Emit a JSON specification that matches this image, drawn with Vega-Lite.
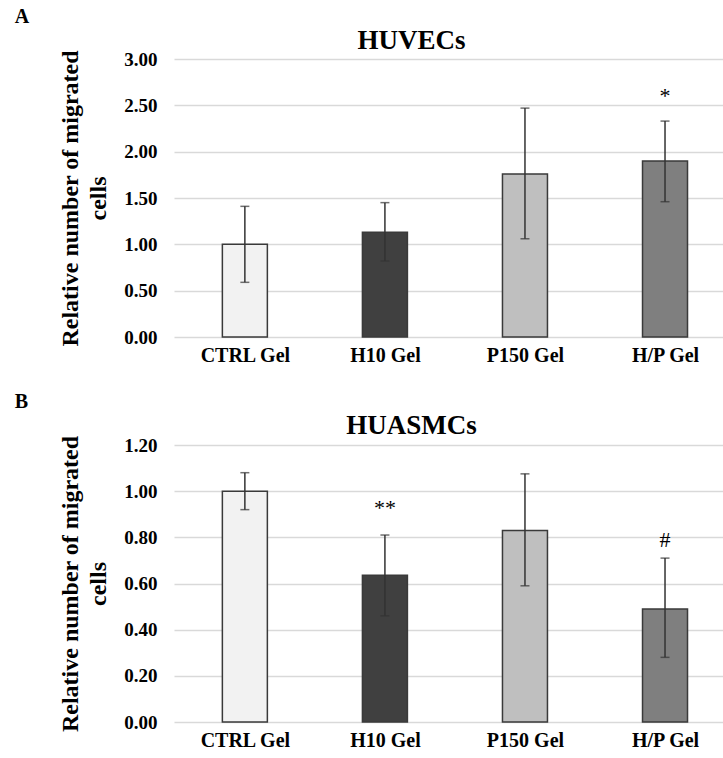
{
  "$schema": "https://vega.github.io/schema/vega-lite/v6.json",
  "background": "white",
  "padding": {"left": 14, "top": 6, "right": 0, "bottom": 2},
  "spacing": 27,
  "config": {
    "font": "Liberation Serif",
    "view": {"stroke": null},
    "title": {"font": "Liberation Serif", "fontWeight": "bold", "color": "black"},
    "axis": {
      "labelFont": "Liberation Serif", "labelFontWeight": "bold", "labelColor": "black",
      "titleFont": "Liberation Serif", "titleFontWeight": "bold", "titleColor": "black"
    }
  },
  "datasets": {
    "huvec": [
      {"group": "CTRL Gel", "mean": 1.00, "lo": 0.59, "hi": 1.41, "sig": null, "sig_y": null},
      {"group": "H10 Gel", "mean": 1.13, "lo": 0.82, "hi": 1.45, "sig": null, "sig_y": null},
      {"group": "P150 Gel", "mean": 1.76, "lo": 1.06, "hi": 2.47, "sig": null, "sig_y": null},
      {"group": "H/P Gel", "mean": 1.90, "lo": 1.46, "hi": 2.33, "sig": "*", "sig_y": 2.52}
    ],
    "huasmc": [
      {"group": "CTRL Gel", "mean": 1.00, "lo": 0.92, "hi": 1.08, "sig": null, "sig_y": null},
      {"group": "H10 Gel", "mean": 0.636, "lo": 0.46, "hi": 0.81, "sig": "**", "sig_y": 0.895},
      {"group": "P150 Gel", "mean": 0.83, "lo": 0.59, "hi": 1.075, "sig": null, "sig_y": null},
      {"group": "H/P Gel", "mean": 0.49, "lo": 0.28, "hi": 0.71, "sig": "#", "sig_y": 0.76}
    ]
  },
  "vconcat": [
    {
      "title": {"text": "A", "anchor": "start", "fontSize": 20, "dx": -44, "offset": 0},
      "vconcat": [
        {
          "title": {"text": "HUVECs", "fontSize": 27, "anchor": "middle", "dx": -37, "offset": -5},
          "width": 549,
          "height": 278,
          "data": {"name": "huvec"},
          "encoding": {
            "x": {
              "field": "group", "type": "nominal", "sort": null,
              "scale": {"type": "point", "padding": 0.46, "align": 0.55},
              "axis": {"title": null, "labelAngle": 0, "labelFontSize": 20, "labelPadding": 8, "ticks": false, "domain": false, "grid": false}
            }
          },
          "layer": [
            {
              "mark": {"type": "bar", "size": 45, "stroke": "#3a3a3a", "strokeWidth": 1.5},
              "encoding": {
                "y": {
                  "field": "mean", "type": "quantitative",
                  "scale": {"domain": [0, 3]},
                  "axis": {
                    "title": ["Relative number of migrated", "cells"],
                    "titleFontSize": 24, "titleLineHeight": 28, "titlePadding": 13,
                    "values": [0, 0.5, 1, 1.5, 2, 2.5, 3], "format": ".2f",
                    "labelFontSize": 19, "labelPadding": 17, "ticks": false, "tickSize": 0, "domain": false,
                    "grid": true, "gridColor": "#d9d9d9", "gridWidth": 1.3
                  }
                },
                "color": {
                  "field": "group", "type": "nominal", "legend": null,
                  "scale": {"domain": ["CTRL Gel", "H10 Gel", "P150 Gel", "H/P Gel"], "range": ["#f2f2f2", "#404040", "#bfbfbf", "#7f7f7f"]}
                }
              }
            },
            {
              "mark": {"type": "rule", "color": "#333333", "strokeWidth": 1.5},
              "encoding": {"y": {"field": "lo", "type": "quantitative"}, "y2": {"field": "hi"}}
            },
            {
              "mark": {"type": "tick", "color": "#333333", "size": 9, "thickness": 1.5},
              "encoding": {"y": {"field": "hi", "type": "quantitative"}}
            },
            {
              "mark": {"type": "tick", "color": "#333333", "size": 9, "thickness": 1.5},
              "encoding": {"y": {"field": "lo", "type": "quantitative"}}
            },
            {
              "transform": [{"filter": "datum.sig != null"}],
              "mark": {"type": "text", "fontSize": 22, "font": "Liberation Serif", "baseline": "alphabetic", "color": "black"},
              "encoding": {"y": {"field": "sig_y", "type": "quantitative"}, "text": {"field": "sig"}}
            }
          ]
        }
      ]
    },
    {
      "title": {"text": "B", "anchor": "start", "fontSize": 20, "dx": -44, "offset": 0},
      "vconcat": [
        {
          "title": {"text": "HUASMCs", "fontSize": 27, "anchor": "middle", "dx": -37, "offset": -5},
          "width": 549,
          "height": 277,
          "data": {"name": "huasmc"},
          "encoding": {
            "x": {
              "field": "group", "type": "nominal", "sort": null,
              "scale": {"type": "point", "padding": 0.46, "align": 0.55},
              "axis": {"title": null, "labelAngle": 0, "labelFontSize": 20, "labelPadding": 8, "ticks": false, "domain": false, "grid": false}
            }
          },
          "layer": [
            {
              "mark": {"type": "bar", "size": 45, "stroke": "#3a3a3a", "strokeWidth": 1.5},
              "encoding": {
                "y": {
                  "field": "mean", "type": "quantitative",
                  "scale": {"domain": [0, 1.2]},
                  "axis": {
                    "title": ["Relative number of migrated", "cells"],
                    "titleFontSize": 24, "titleLineHeight": 28, "titlePadding": 13,
                    "values": [0, 0.2, 0.4, 0.6, 0.8, 1.0, 1.2], "format": ".2f",
                    "labelFontSize": 19, "labelPadding": 17, "ticks": false, "tickSize": 0, "domain": false,
                    "grid": true, "gridColor": "#d9d9d9", "gridWidth": 1.3
                  }
                },
                "color": {
                  "field": "group", "type": "nominal", "legend": null,
                  "scale": {"domain": ["CTRL Gel", "H10 Gel", "P150 Gel", "H/P Gel"], "range": ["#f2f2f2", "#404040", "#bfbfbf", "#7f7f7f"]}
                }
              }
            },
            {
              "mark": {"type": "rule", "color": "#333333", "strokeWidth": 1.5},
              "encoding": {"y": {"field": "lo", "type": "quantitative"}, "y2": {"field": "hi"}}
            },
            {
              "mark": {"type": "tick", "color": "#333333", "size": 9, "thickness": 1.5},
              "encoding": {"y": {"field": "hi", "type": "quantitative"}}
            },
            {
              "mark": {"type": "tick", "color": "#333333", "size": 9, "thickness": 1.5},
              "encoding": {"y": {"field": "lo", "type": "quantitative"}}
            },
            {
              "transform": [{"filter": "datum.sig != null"}],
              "mark": {"type": "text", "fontSize": 22, "font": "Liberation Serif", "baseline": "alphabetic", "color": "black"},
              "encoding": {"y": {"field": "sig_y", "type": "quantitative"}, "text": {"field": "sig"}}
            }
          ]
        }
      ]
    }
  ]
}
